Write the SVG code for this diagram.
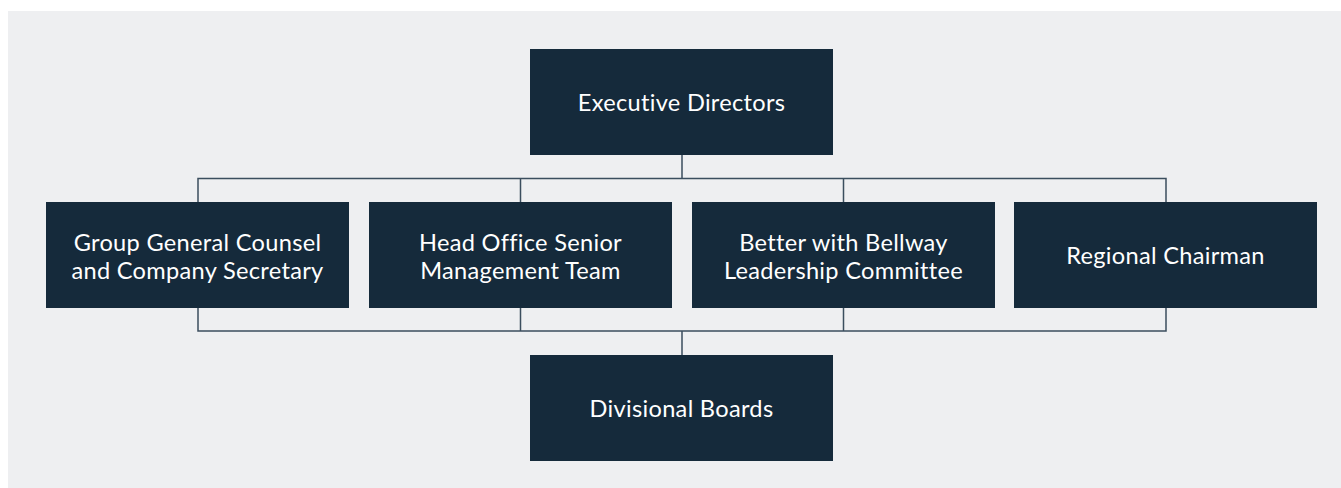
<svg xmlns="http://www.w3.org/2000/svg" width="1341" height="488" viewBox="0 0 1341 488">
<style>
.box{fill:#152a3b}
.t{fill:#ffffff;font-family:Lato,"Noto Sans",sans-serif;font-size:23.6px;text-anchor:middle;font-variant-ligatures:none;letter-spacing:0.3px}
.c{fill:none;stroke:#3b4e5e;stroke-width:1.5}
</style>
<rect x="0" y="0" width="1341" height="488" fill="#ffffff"/>
<rect x="8" y="11" width="1333" height="477" fill="#eeeff1"/>
<g id="connectors">
<path class="c" d="M682 155V178.5M198 202V178.5H1166V202M520.5 178.5V202M843.5 178.5V202"/>
<path class="c" d="M682 355V331M198 307V331H1166V307M520.5 331V307M843.5 331V307"/>
</g>
<g id="exec"><rect class="box" x="530" y="49" width="303" height="106"/><text class="t" x="681.5" y="111">Executive Directors</text></g>
<g id="counsel"><rect class="box" x="46" y="202" width="303" height="106"/><text class="t" x="197.5" y="251">Group General Counsel</text><text class="t" x="197.5" y="278.5">and Company Secretary</text></g>
<g id="hosmt"><rect class="box" x="369" y="202" width="303" height="106"/><text class="t" x="520.5" y="251">Head Office Senior</text><text class="t" x="520.5" y="278.5">Management Team</text></g>
<g id="bwb"><rect class="box" x="692" y="202" width="303" height="106"/><text class="t" x="843.5" y="251">Better with Bellway</text><text class="t" x="843.5" y="278.5">Leadership Committee</text></g>
<g id="regional"><rect class="box" x="1014" y="202" width="303" height="106"/><text class="t" x="1165.5" y="264">Regional Chairman</text></g>
<g id="divisional"><rect class="box" x="530" y="355" width="303" height="106"/><text class="t" x="681.5" y="417">Divisional Boards</text></g>
</svg>
